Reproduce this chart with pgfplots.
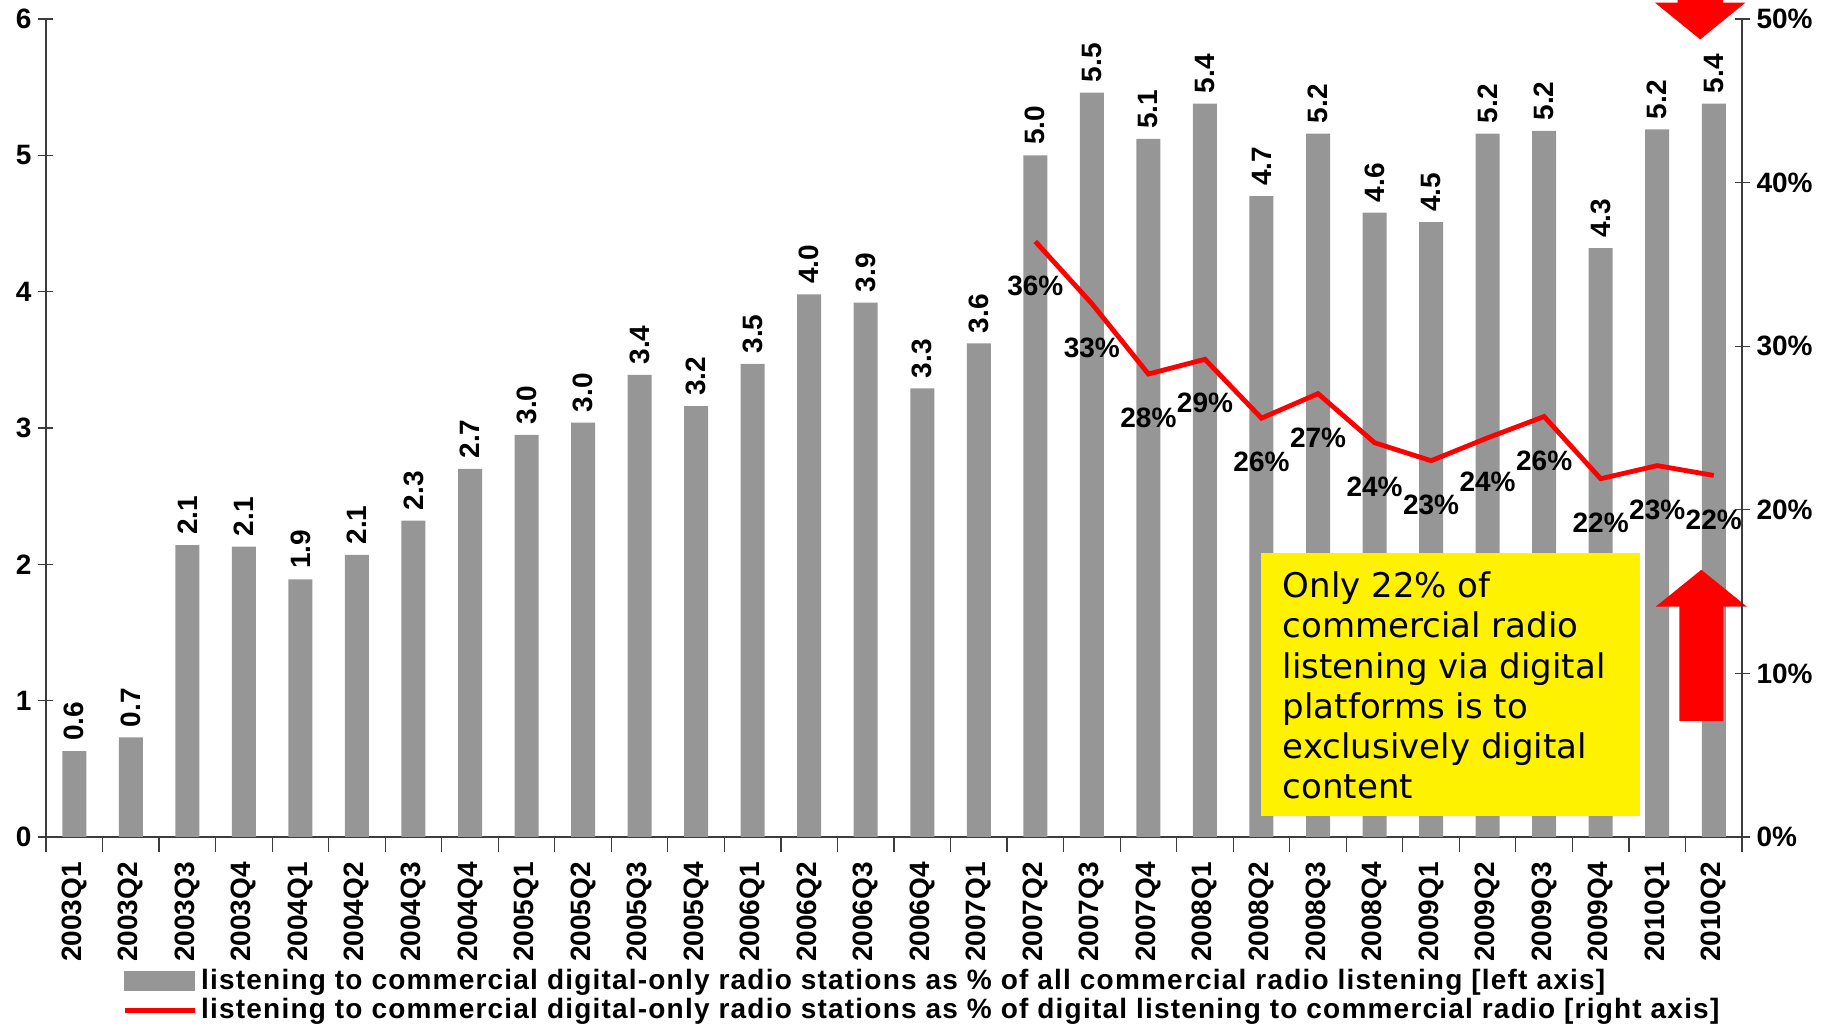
\documentclass[border=0pt]{standalone}
\usepackage{fontspec}
\setmainfont{Liberation Sans}
\newfontfamily\legendfont[LetterSpace=4.3]{Liberation Sans}
\newfontfamily\boxfont{DejaVu Sans}
\usepackage{pgfplots}
\pgfplotsset{compat=1.18}
\usepackage{pgfplotstable}

\definecolor{bargray}{RGB}{150,150,150}
\definecolor{axisgray}{RGB}{60,60,60}

% share of all commercial radio listening (left axis)
\pgfplotstableread{
x share
0 0.63
1 0.73
2 2.14
3 2.13
4 1.89
5 2.07
6 2.32
7 2.70
8 2.95
9 3.04
10 3.39
11 3.16
12 3.47
13 3.98
14 3.92
15 3.29
16 3.62
17 5.00
18 5.46
19 5.12
20 5.38
21 4.70
22 5.16
23 4.58
24 4.51
25 5.16
26 5.18
27 4.32
28 5.19
29 5.38
}\sharetable

% share of digital listening (right axis, %)
\pgfplotstableread{
x pct
17 36.4
18 32.6
19 28.3
20 29.2
21 25.6
22 27.1
23 24.1
24 23.0
25 24.4
26 25.7
27 21.9
28 22.7
29 22.1
}\pcttable

\begin{document}
\begin{tikzpicture}
\pgfplotsset{
  base/.style={
    scale only axis, width=848pt, height=409pt,
    xmin=-0.5, xmax=29.5, clip=false,
    tick align=center, major tick length=7.5pt, minor tick length=7.5pt,
    /pgf/number format/assume math mode=true,
    tick label style={font=\fontsize{14}{16}\selectfont\bfseries},
    axis line style={axisgray, line width=0.8pt},
    every tick/.append style={axisgray, line width=0.6pt},
  }
}
\begin{axis}[base,
  ymin=0, ymax=6, ytick={0,...,6},
  axis y line*=left, axis x line*=bottom,
  xtick={0,...,29},
  xticklabels={2003Q1,2003Q2,2003Q3,2003Q4,2004Q1,2004Q2,2004Q3,2004Q4,
    2005Q1,2005Q2,2005Q3,2005Q4,2006Q1,2006Q2,2006Q3,2006Q4,
    2007Q1,2007Q2,2007Q3,2007Q4,2008Q1,2008Q2,2008Q3,2008Q4,
    2009Q1,2009Q2,2009Q3,2009Q4,2010Q1,2010Q2},
  xticklabel style={rotate=90, anchor=east, xshift=-1.5pt},
  major x tick style={draw=none},
  minor xtick={-0.5,0.5,...,29.5},
  ybar, bar width=12pt,
  nodes near coords={\pgfmathprintnumber[fixed,zerofill,precision=1]{\pgfplotspointmeta}},
  every node near coord/.append style={rotate=90, anchor=west, inner sep=5pt,
    font=\fontsize{14}{16}\selectfont\bfseries},
]
\addplot[fill=bargray, draw=none] table[x=x, y=share] {\sharetable};

% annotation box and arrows
\fill[yellow] (axis cs:21.0,2.08) rectangle (axis cs:27.7,0.154);
\node[anchor=north west, align=left, inner sep=0pt,
  font=\boxfont\fontsize{17}{20.1}\selectfont] at (axis cs:21.0,2.08)
  [xshift=10.5pt, yshift=-9pt]
  {Only 22\% of\\commercial radio\\listening via digital\\platforms is to\\exclusively digital\\content};
\fill[red] (axis cs:28.39,0.851) -- (axis cs:28.39,1.69) -- (axis cs:27.975,1.69)
  -- (axis cs:28.78,1.96) -- (axis cs:29.585,1.69) -- (axis cs:29.17,1.69)
  -- (axis cs:29.17,0.851) -- cycle;
\fill[red] (axis cs:28.36,6.6) -- (axis cs:28.36,6.12) -- (axis cs:27.96,6.12)
  -- (axis cs:28.76,5.85) -- (axis cs:29.56,6.12) -- (axis cs:29.16,6.12)
  -- (axis cs:29.16,6.6) -- cycle;
\end{axis}

\begin{axis}[base,
  ymin=0, ymax=50, ytick={0,10,...,50},
  yticklabel={\pgfmathprintnumber{\tick}\%},
  axis y line*=right, axis x line=none,
  legend style={draw=none, fill=none, at={(0,0)}, anchor=north west,
    xshift=38pt, yshift=-64pt, inner sep=0pt, row sep=-1pt,
    font=\legendfont\fontsize{14}{15.5}\selectfont\bfseries},
  legend cell align=left,
]
\addlegendimage{legend image code/.code={\fill[bargray] (0pt,-4.75pt) rectangle (35pt,4.75pt);}}
\addlegendentry{listening to commercial digital-only radio stations as \% of all commercial radio listening [left axis]}
\addplot[red, line width=2.4pt,
  legend image code/.code={\draw[red, line width=2.4pt] (0pt,0pt) -- (35pt,0pt);},
  point meta=y,
  nodes near coords={\pgfmathprintnumber[fixed,precision=0]{\pgfplotspointmeta}\%},
  every node near coord/.append style={anchor=center, yshift=-22pt, black,
    font=\fontsize{14}{16}\selectfont\bfseries},
] table[x=x, y=pct] {\pcttable};
\addlegendentry{listening to commercial digital-only radio stations as \% of digital listening to commercial radio [right axis]}
\end{axis}

\pgfresetboundingbox
\path[use as bounding box] (-23pt,-94.5pt) rectangle (894pt,418.5pt);
\end{tikzpicture}
\end{document}
